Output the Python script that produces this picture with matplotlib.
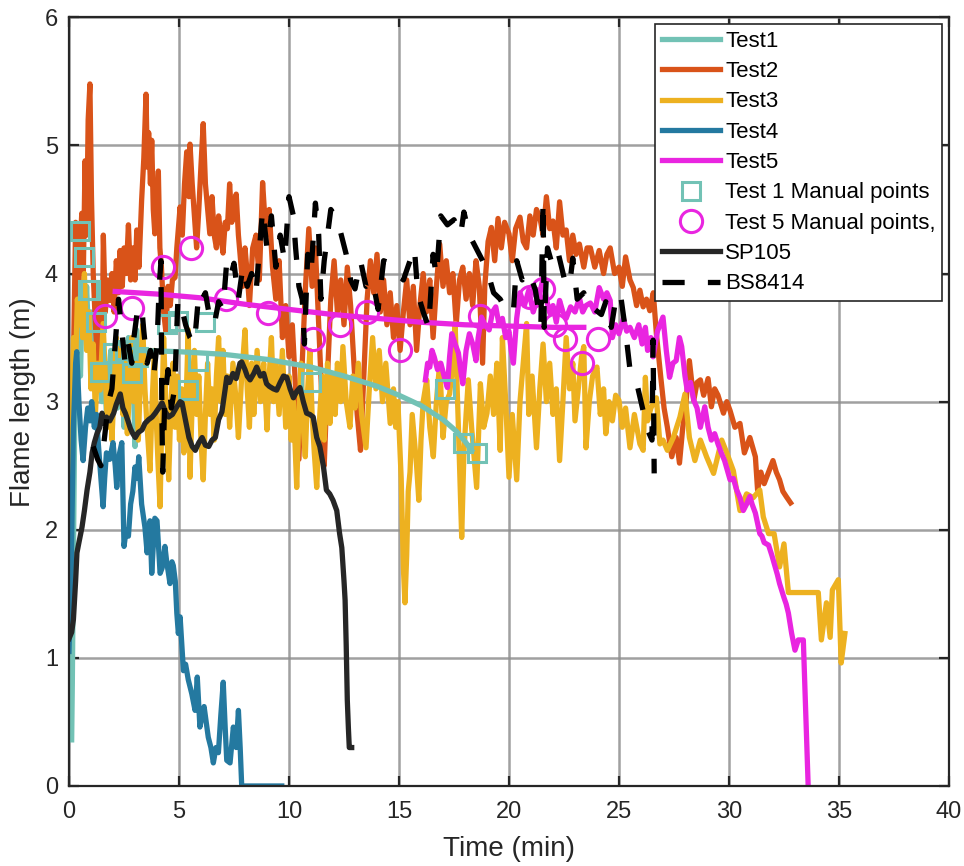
import numpy as np
import matplotlib
matplotlib.use("Agg")
import matplotlib.pyplot as plt

plt.rcParams['font.family'] = ['Liberation Sans', 'DejaVu Sans']

# --- data (time in min, flame length in m) ---
test1_raw = np.array([
    [0.12, 0.36], [0.15, 0.8], [0.2, 1.8], [0.25, 2.7], [0.3, 3.3], [0.38, 3.0],
    [0.45, 3.5], [0.52, 3.2], [0.6, 3.8], [0.7, 3.5], [0.8, 3.9], [0.9, 3.45],
    [1.0, 3.7], [1.1, 3.3], [1.2, 3.55], [1.3, 3.1], [1.4, 3.4], [1.5, 3.0],
    [1.6, 3.3], [1.7, 2.9], [1.8, 3.2], [1.9, 3.4], [2.0, 3.1], [2.1, 3.3],
    [2.2, 2.95], [2.3, 3.2], [2.4, 3.45], [2.5, 2.8], [2.6, 3.2], [2.7, 3.5],
    [2.8, 3.0], [2.9, 3.3], [3.0, 2.65], [3.07, 3.56], [3.15, 3.3], [3.2, 3.4]])

test1_fit = np.array([
    [3.2, 3.40], [5, 3.39], [7, 3.37], [9, 3.33], [11, 3.27], [12.5, 3.2],
    [14, 3.12], [15, 3.05], [16, 2.97], [17, 2.86], [17.6, 2.77], [18.0, 2.69],
    [18.3, 2.62]])

test2 = np.array([
    [0.0, 2.5], [0.1, 2.55], [0.2, 3.3], [0.3, 4.4], [0.4, 3.6], [0.5, 4.2],
    [0.58, 4.47], [0.65, 4.0], [0.73, 4.88], [0.8, 4.3], [0.87, 5.2], [0.95, 5.48],
    [1.02, 4.6], [1.1, 4.0], [1.2, 3.6], [1.3, 3.3], [1.4, 3.8], [1.5, 3.25],
    [1.56, 4.3], [1.65, 3.7], [1.75, 3.95], [1.86, 3.79], [1.95, 4.0], [2.05, 3.7],
    [2.15, 4.1], [2.25, 3.85], [2.32, 4.18], [2.42, 3.9], [2.5, 4.2], [2.6, 4.0],
    [2.7, 4.38], [2.8, 3.95], [2.9, 4.2], [3.0, 3.95], [3.08, 4.34], [3.18, 4.05],
    [3.3, 4.57], [3.4, 4.9], [3.5, 5.4], [3.56, 4.83], [3.62, 5.1], [3.7, 4.7],
    [3.76, 5.04], [3.83, 4.5], [3.9, 4.31], [3.98, 4.5], [4.06, 4.8], [4.13, 4.2],
    [4.2, 4.05], [4.3, 3.7], [4.4, 3.55], [4.5, 3.9], [4.6, 3.75], [4.7, 3.95],
    [4.82, 3.97], [4.9, 4.2], [5.05, 4.52], [5.15, 4.3], [5.25, 4.7], [5.35, 4.95],
    [5.45, 4.6], [5.5, 5.01], [5.6, 4.7], [5.7, 4.45], [5.8, 4.2], [5.9, 4.5],
    [6.0, 4.85], [6.1, 5.17], [6.2, 4.7], [6.3, 4.5], [6.4, 4.31], [6.5, 4.6],
    [6.6, 4.3], [6.7, 4.2], [6.8, 4.45], [6.9, 4.3], [7.0, 4.16], [7.1, 4.4],
    [7.2, 4.35], [7.3, 4.7], [7.4, 4.4], [7.5, 4.55], [7.6, 4.62], [7.7, 4.3],
    [7.8, 4.1], [7.9, 3.9], [8.0, 4.2], [8.1, 4.0], [8.2, 3.75], [8.35, 4.2],
    [8.5, 4.3], [8.65, 3.95], [8.8, 4.71], [8.95, 4.3], [9.1, 4.5], [9.25, 4.05],
    [9.4, 3.8], [9.55, 4.1], [9.7, 3.5], [9.85, 3.75], [10.0, 3.35], [10.15, 3.6],
    [10.3, 3.1], [10.45, 2.55], [10.6, 3.3], [10.75, 3.9], [10.9, 4.35], [11.05, 3.9],
    [11.2, 4.2], [11.35, 3.6], [11.5, 3.0], [11.6, 2.5], [11.75, 3.2], [11.9, 3.8],
    [12.05, 4.1], [12.2, 3.7], [12.35, 3.95], [12.5, 3.6], [12.65, 4.05], [12.8, 3.75],
    [12.95, 3.3], [13.1, 2.9], [13.25, 2.62], [13.4, 3.2], [13.55, 3.8], [13.7, 4.1],
    [13.85, 3.85], [14.0, 4.15], [14.15, 3.7], [14.3, 3.95], [14.45, 3.6], [14.6, 3.85],
    [14.75, 3.5], [14.9, 3.75], [15.05, 3.4], [15.2, 3.7], [15.35, 3.95], [15.5, 3.6],
    [15.65, 3.9], [15.8, 3.4], [15.95, 3.75], [16.1, 4.0], [16.25, 3.7], [16.4, 3.95],
    [16.55, 3.5], [16.7, 3.9], [16.85, 4.23], [17.0, 3.9], [17.15, 4.1], [17.3, 3.85],
    [17.45, 4.0], [17.6, 3.6], [17.75, 3.95], [17.9, 4.05], [18.05, 3.8], [18.2, 4.0],
    [18.35, 3.75], [18.5, 4.1], [18.65, 3.9], [18.8, 3.3], [18.9, 3.9], [19.05, 4.25],
    [19.2, 4.36], [19.35, 4.1], [19.5, 4.43], [19.65, 4.2], [19.8, 4.4], [20.0, 4.31],
    [20.15, 4.1], [20.3, 4.35], [20.5, 4.44], [20.65, 4.25], [20.8, 4.2], [20.95, 4.45],
    [21.1, 4.3], [21.25, 4.5], [21.4, 4.44], [21.55, 4.3], [21.7, 4.6], [21.85, 4.35],
    [22.0, 4.41], [22.15, 4.2], [22.3, 4.56], [22.45, 4.3], [22.6, 4.34], [22.75, 4.1],
    [22.9, 4.3], [23.05, 4.15], [23.2, 4.23], [23.4, 4.05], [23.55, 4.2], [23.7, 4.2],
    [23.9, 4.05], [24.1, 4.18], [24.3, 4.0], [24.45, 4.15], [24.6, 4.2], [24.8, 4.0],
    [25.0, 4.05], [25.15, 3.9], [25.3, 4.13], [25.5, 3.95], [25.65, 3.89], [25.8, 3.75],
    [25.95, 3.87], [26.1, 3.74], [26.25, 3.8], [26.4, 3.71], [26.56, 3.85], [26.7, 3.53],
    [26.9, 3.19], [27.05, 2.95], [27.2, 2.8], [27.4, 2.57], [27.6, 2.72], [27.75, 2.52],
    [27.9, 2.8], [28.05, 3.0], [28.2, 3.32], [28.4, 3.01], [28.55, 3.15], [28.7, 3.17],
    [28.85, 3.05], [29.05, 3.18], [29.2, 2.96], [29.35, 3.1], [29.5, 3.05], [29.75, 2.91],
    [29.9, 3.0], [30.05, 2.93], [30.27, 2.8], [30.5, 2.83], [30.7, 2.6], [30.95, 2.72],
    [31.2, 2.57], [31.3, 2.31], [31.45, 2.45], [31.6, 2.36], [31.8, 2.45], [32.0, 2.54],
    [32.15, 2.45], [32.3, 2.39], [32.45, 2.3], [32.6, 2.26], [32.8, 2.21]])

test3 = np.array([
    [0.0, 1.65], [0.05, 1.9], [0.12, 2.9], [0.2, 3.5], [0.3, 3.3], [0.38, 3.8],
    [0.45, 3.6], [0.55, 3.9], [0.62, 3.5], [0.7, 4.0], [0.8, 3.4], [0.9, 3.7],
    [1.0, 3.1], [1.1, 3.45], [1.2, 2.9], [1.3, 3.3], [1.41, 3.09], [1.55, 3.61],
    [1.65, 3.2], [1.75, 2.8], [1.85, 3.2], [1.95, 2.7], [2.05, 3.1], [2.15, 3.5],
    [2.25, 3.0], [2.35, 3.4], [2.45, 2.9], [2.55, 3.3], [2.65, 2.75], [2.75, 3.1],
    [2.85, 3.5], [2.95, 3.0], [3.05, 3.3], [3.15, 2.7], [3.25, 3.2], [3.35, 3.6],
    [3.45, 3.1], [3.55, 2.8], [3.68, 2.46], [3.78, 3.0], [3.88, 3.4], [3.98, 2.8],
    [4.05, 2.5], [4.14, 2.18], [4.22, 2.9], [4.3, 3.5], [4.4, 3.0], [4.53, 2.39],
    [4.62, 2.9], [4.72, 3.3], [4.82, 2.8], [4.92, 3.2], [5.02, 2.7], [5.12, 3.1],
    [5.22, 2.6], [5.32, 3.0], [5.42, 3.56], [5.5, 2.41], [5.6, 3.0], [5.7, 3.4],
    [5.8, 2.9], [5.9, 3.2], [6.0, 2.7], [6.1, 2.39], [6.2, 2.9], [6.3, 3.3],
    [6.4, 2.9], [6.5, 3.1], [6.6, 2.7], [6.7, 3.2], [6.8, 3.5], [6.9, 3.0],
    [7.0, 3.4], [7.1, 2.9], [7.2, 3.2], [7.3, 2.8], [7.45, 3.3], [7.6, 3.0],
    [7.7, 2.72], [7.85, 3.2], [8.0, 3.56], [8.1, 3.1], [8.2, 2.8], [8.3, 3.3],
    [8.4, 2.9], [8.55, 3.4], [8.7, 3.0], [8.85, 3.3], [9.0, 2.78], [9.1, 3.2],
    [9.2, 3.5], [9.3, 3.0], [9.4, 3.3], [9.55, 2.9], [9.7, 3.4], [9.85, 2.8],
    [10.0, 3.2], [10.1, 2.7], [10.2, 3.0], [10.35, 2.33], [10.45, 2.9], [10.55, 3.3],
    [10.65, 2.8], [10.74, 2.57], [10.85, 3.1], [10.95, 3.4], [11.05, 2.9], [11.15, 2.6],
    [11.26, 2.33], [11.4, 2.9], [11.5, 3.2], [11.6, 2.7], [11.75, 3.3], [11.86, 2.83],
    [12.0, 3.2], [12.1, 2.9], [12.2, 3.3], [12.35, 3.0], [12.45, 3.43], [12.6, 3.0],
    [12.77, 2.8], [12.9, 3.2], [13.0, 2.95], [13.15, 3.3], [13.3, 2.9], [13.5, 2.64],
    [13.65, 3.1], [13.8, 3.5], [13.95, 3.1], [14.1, 3.4], [14.25, 3.0], [14.4, 3.3],
    [14.6, 2.83], [14.75, 3.1], [14.85, 2.8], [14.95, 3.0], [15.1, 2.4], [15.2, 1.7],
    [15.27, 1.43], [15.35, 1.8], [15.42, 2.3], [15.5, 2.45], [15.6, 2.9], [15.7, 2.7],
    [15.8, 2.5], [15.9, 2.23], [16.0, 2.7], [16.1, 3.0], [16.26, 3.17], [16.4, 2.8],
    [16.56, 2.57], [16.7, 3.0], [16.85, 3.3], [17.0, 2.72], [17.15, 3.0], [17.3, 3.06],
    [17.45, 3.3], [17.55, 3.61], [17.7, 2.8], [17.85, 1.94], [17.95, 2.6], [18.05, 2.9],
    [18.15, 3.17], [18.3, 2.8], [18.45, 2.5], [18.53, 2.33], [18.7, 3.14], [18.85, 2.8],
    [19.0, 2.91], [19.15, 3.2], [19.3, 2.9], [19.45, 3.3], [19.6, 2.62], [19.7, 3.5],
    [19.85, 3.0], [20.0, 2.41], [20.15, 2.9], [20.35, 2.39], [20.5, 3.0], [20.65, 3.3],
    [20.8, 3.61], [20.9, 2.9], [21.05, 3.2], [21.25, 2.64], [21.4, 3.1], [21.55, 3.45],
    [21.7, 3.0], [21.85, 3.3], [22.0, 2.9], [22.15, 3.1], [22.3, 2.54], [22.45, 3.0],
    [22.6, 3.5], [22.75, 3.1], [22.9, 3.3], [23.0, 2.85], [23.15, 3.1], [23.3, 3.35],
    [23.4, 3.43], [23.5, 2.64], [23.65, 3.0], [23.8, 3.2], [24.0, 3.27], [24.15, 2.9],
    [24.3, 3.1], [24.4, 2.75], [24.55, 3.0], [24.7, 2.85], [24.85, 3.05], [25.0, 3.01],
    [25.15, 2.8], [25.3, 2.95], [25.5, 2.64], [25.7, 2.9], [25.95, 2.67], [26.1, 2.62],
    [26.2, 3.19], [26.3, 2.85], [26.45, 2.95], [26.7, 3.03], [26.86, 2.67], [27.0, 2.7],
    [27.2, 2.62], [27.47, 2.72], [27.77, 2.88], [28.0, 3.06], [28.2, 2.72], [28.45, 2.54],
    [28.7, 2.7], [28.98, 2.57], [29.3, 2.44], [29.67, 2.7], [29.9, 2.6], [30.2, 2.46],
    [30.5, 2.15], [30.8, 2.28], [31.1, 2.25], [31.4, 2.31], [31.56, 2.1], [31.8, 1.97],
    [32.05, 1.97], [32.3, 1.71], [32.5, 1.89], [32.7, 1.51], [34.06, 1.51], [34.2, 1.14],
    [34.43, 1.43], [34.6, 1.16], [34.7, 1.53], [34.97, 1.61], [35.1, 0.96], [35.27, 1.19]])

test4 = np.array([
    [0.0, 1.05], [0.1, 1.7], [0.2, 2.8], [0.3, 3.3], [0.35, 3.39], [0.45, 3.0],
    [0.55, 2.7], [0.64, 2.54], [0.75, 2.8], [0.85, 2.95], [0.95, 2.85], [1.03, 3.0],
    [1.15, 2.8], [1.25, 2.9], [1.32, 2.7], [1.45, 2.4], [1.55, 2.18], [1.62, 2.4],
    [1.7, 2.6], [1.85, 2.55], [2.0, 2.68], [2.1, 2.5], [2.17, 2.33], [2.3, 2.6],
    [2.4, 2.68], [2.5, 1.87], [2.6, 2.0], [2.7, 1.95], [2.8, 2.2], [2.9, 2.3],
    [3.0, 2.49], [3.1, 2.4], [3.17, 2.57], [3.3, 2.2], [3.45, 2.02], [3.55, 1.82],
    [3.68, 2.07], [3.76, 1.66], [3.9, 2.09], [4.0, 2.07], [4.14, 1.66], [4.23, 1.7],
    [4.36, 1.87], [4.44, 1.75], [4.59, 1.58], [4.68, 1.75], [4.74, 1.72], [4.83, 1.6],
    [4.9, 1.35], [4.97, 1.19], [5.05, 1.32], [5.2, 0.9], [5.3, 0.95], [5.42, 0.83],
    [5.58, 0.72], [5.73, 0.59], [5.83, 0.85], [5.95, 0.46], [6.05, 0.55], [6.14, 0.62],
    [6.33, 0.38], [6.45, 0.3], [6.56, 0.18], [6.68, 0.3], [6.79, 0.26], [6.9, 0.55],
    [7.01, 0.81], [7.1, 0.45], [7.17, 0.2], [7.32, 0.18], [7.47, 0.46], [7.6, 0.3],
    [7.7, 0.59], [7.78, 0.3], [7.85, 0.0], [9.67, 0.0]])

test5_raw = np.array([
    [16.2, 3.17], [16.3, 3.3], [16.4, 3.27], [16.5, 3.4], [16.6, 3.35], [16.75, 3.25],
    [16.9, 3.3], [17.05, 3.2], [17.2, 3.11], [17.3, 3.35], [17.4, 3.53], [17.55, 3.45],
    [17.7, 3.38], [17.8, 3.25], [17.9, 3.14], [18.05, 3.4], [18.2, 3.53], [18.35, 3.45],
    [18.5, 3.32], [18.6, 3.5], [18.75, 3.66], [18.9, 3.6], [19.1, 3.56], [19.25, 3.7],
    [19.4, 3.74], [19.55, 3.6], [19.7, 3.65], [19.85, 3.5], [20.0, 3.55], [20.1, 3.4],
    [20.2, 3.3], [20.35, 3.65], [20.5, 3.85], [20.7, 3.75], [20.9, 3.87], [21.1, 3.7],
    [21.26, 3.79], [21.4, 3.85], [21.56, 3.97], [21.7, 3.8], [21.86, 3.69], [22.0, 3.75],
    [22.15, 3.62], [22.3, 3.79], [22.45, 3.7], [22.6, 3.65], [22.8, 3.74], [23.0, 3.7],
    [23.2, 3.81], [23.35, 3.7], [23.5, 3.75], [23.7, 3.77], [23.9, 3.7], [24.1, 3.89],
    [24.3, 3.8], [24.45, 3.85], [24.6, 3.79], [24.7, 3.5], [24.85, 3.6], [25.0, 3.53],
    [25.2, 3.65], [25.35, 3.55], [25.5, 3.58], [25.7, 3.5], [25.9, 3.6], [26.05, 3.45],
    [26.2, 3.58], [26.3, 3.4], [26.45, 3.5], [26.55, 3.35], [26.75, 3.55], [27.0, 3.66],
    [27.15, 3.4], [27.3, 3.19], [27.45, 3.3], [27.6, 3.32], [27.75, 3.5], [27.85, 3.43],
    [28.0, 3.2], [28.1, 3.09], [28.25, 3.15], [28.4, 3.01], [28.55, 2.95], [28.7, 2.8],
    [28.9, 2.96], [29.05, 2.8], [29.2, 2.7], [29.35, 2.75], [29.5, 2.67], [29.65, 2.6],
    [29.8, 2.54], [29.95, 2.45], [30.05, 2.39], [30.2, 2.4], [30.35, 2.31], [30.5, 2.25],
    [30.65, 2.15], [30.8, 2.2], [30.95, 2.26], [31.05, 2.2], [31.2, 2.13], [31.3, 2.05],
    [31.4, 1.97], [31.5, 1.95], [31.6, 1.9], [31.8, 1.88], [31.95, 1.8], [32.1, 1.71],
    [32.2, 1.65], [32.3, 1.58], [32.5, 1.47], [32.6, 1.42], [32.7, 1.35], [32.85, 1.19],
    [33.0, 1.06], [33.15, 1.14], [33.38, 1.14], [33.42, 0.93], [33.6, 0.0]])

test5_fit = np.array([
    [2.1, 3.86], [4, 3.84], [6, 3.81], [8, 3.76], [10, 3.72], [12, 3.68],
    [14, 3.65], [16, 3.62], [18, 3.6], [20, 3.59], [22, 3.58], [23.4, 3.58]])

test1_manual = np.array([
    [0.51, 4.33], [0.68, 4.13], [0.86, 3.87], [0.95, 3.87], [1.22, 3.62], [1.43, 3.23],
    [2.0, 3.38], [2.55, 3.4], [2.86, 3.22], [3.15, 3.35], [4.44, 3.61], [4.95, 3.63],
    [5.43, 3.09], [5.85, 3.32], [6.2, 3.62], [11.0, 3.15], [17.1, 3.1], [17.9, 2.68],
    [18.55, 2.6]])

test5_manual = np.array([
    [1.62, 3.67], [2.86, 3.73], [4.26, 4.05], [5.55, 4.2], [7.15, 3.8], [9.05, 3.69],
    [11.08, 3.49], [12.3, 3.6], [13.53, 3.7], [15.05, 3.4], [18.7, 3.67], [20.95, 3.82],
    [21.55, 3.88], [22.1, 3.6], [22.55, 3.49], [23.3, 3.3], [24.05, 3.49]])

sp105 = np.array([
    [0.0, 1.15], [0.12, 1.2], [0.2, 1.3], [0.3, 1.6], [0.36, 1.82], [0.45, 1.9],
    [0.59, 2.02], [0.7, 2.15], [0.82, 2.31], [0.95, 2.45], [1.05, 2.6], [1.15, 2.68],
    [1.27, 2.75], [1.4, 2.8], [1.5, 2.91], [1.58, 2.83], [1.7, 2.88], [1.85, 2.85],
    [2.03, 2.91], [2.15, 2.98], [2.33, 3.06], [2.45, 2.95], [2.56, 2.91], [2.68, 2.85],
    [2.79, 2.79], [2.9, 2.75], [3.01, 2.72], [3.15, 2.76], [3.32, 2.78], [3.45, 2.83],
    [3.62, 2.86], [3.78, 2.88], [3.92, 2.91], [4.08, 2.95], [4.23, 2.99], [4.38, 2.92],
    [4.53, 2.88], [4.7, 2.9], [4.9, 2.96], [5.05, 3.0], [5.14, 2.99], [5.3, 2.85],
    [5.45, 2.72], [5.6, 2.65], [5.74, 2.62], [5.9, 2.68], [6.05, 2.72], [6.2, 2.66],
    [6.35, 2.65], [6.5, 2.7], [6.65, 2.72], [6.8, 2.86], [6.95, 2.92], [7.1, 3.1],
    [7.17, 3.19], [7.3, 3.15], [7.45, 3.22], [7.6, 3.18], [7.77, 3.3], [7.85, 3.31],
    [8.0, 3.25], [8.1, 3.2], [8.23, 3.17], [8.4, 3.22], [8.53, 3.27], [8.7, 3.2],
    [8.85, 3.22], [8.98, 3.14], [9.1, 3.12], [9.29, 3.1], [9.44, 3.09], [9.6, 3.15],
    [9.75, 3.2], [9.9, 3.19], [10.05, 3.1], [10.2, 3.03], [10.35, 3.08], [10.5, 3.11],
    [10.65, 3.0], [10.8, 2.91], [10.95, 2.9], [11.1, 2.88], [11.26, 2.72], [11.4, 2.65],
    [11.56, 2.5], [11.7, 2.31], [11.85, 2.28], [12.0, 2.23], [12.17, 2.15], [12.3, 1.97],
    [12.4, 1.86], [12.5, 1.6], [12.55, 1.45], [12.6, 1.1], [12.65, 0.67], [12.7, 0.45],
    [12.74, 0.3], [12.85, 0.3]])

bs8414 = np.array([
    [1.1, 2.65], [1.3, 2.55], [1.45, 2.5], [1.6, 2.7], [1.8, 3.0], [1.95, 3.1],
    [2.1, 3.45], [2.25, 3.8], [2.4, 3.55], [2.55, 3.3], [2.7, 3.45], [2.85, 3.3],
    [2.95, 3.5], [3.1, 3.7], [3.3, 3.75], [3.4, 3.55], [3.55, 3.3], [3.7, 3.4],
    [3.85, 3.2], [4.0, 3.45], [4.1, 3.9], [4.18, 4.1], [4.22, 2.9], [4.26, 2.45],
    [4.35, 3.0], [4.5, 3.25], [4.65, 2.95], [4.8, 3.1], [4.95, 3.8], [5.1, 3.75],
    [5.3, 3.6], [5.5, 3.5], [5.7, 3.45], [5.9, 3.85], [6.05, 3.8], [6.2, 3.85],
    [6.4, 3.65], [6.6, 3.6], [6.8, 3.78], [7.0, 3.72], [7.15, 4.05], [7.3, 3.95],
    [7.5, 4.08], [7.7, 3.8], [7.9, 4.05], [8.1, 3.9], [8.3, 4.0], [8.5, 3.85],
    [8.8, 4.5], [9.0, 4.2], [9.2, 4.45], [9.4, 4.05], [9.6, 4.3], [9.8, 4.1],
    [10.0, 4.6], [10.2, 4.45], [10.3, 4.2], [10.45, 3.9], [10.6, 3.8], [10.7, 3.45],
    [10.85, 4.15], [11.0, 4.0], [11.2, 4.55], [11.35, 4.3], [11.45, 3.8], [11.6, 4.1],
    [11.9, 4.5], [12.2, 4.42], [12.45, 4.25], [12.6, 4.15], [12.8, 3.95], [13.0, 3.88],
    [13.25, 4.1], [13.5, 3.9], [13.8, 3.95], [14.05, 3.72], [14.3, 4.1], [14.6, 4.08],
    [14.9, 4.0], [15.2, 3.95], [15.5, 4.1], [15.7, 4.2], [15.85, 3.85], [16.1, 3.7],
    [16.35, 3.58], [16.55, 4.15], [16.7, 3.98], [16.9, 4.45], [17.2, 4.38], [17.5, 4.42],
    [17.8, 4.3], [17.95, 4.48], [18.2, 4.3], [18.5, 4.2], [18.8, 4.1], [19.05, 4.0],
    [19.3, 3.85], [19.6, 3.8], [19.9, 3.7], [20.2, 3.7], [20.35, 4.1], [20.6, 3.95],
    [20.9, 4.02], [21.2, 3.87], [21.45, 3.6], [21.55, 4.57], [21.6, 3.58], [21.75, 4.2],
    [22.0, 4.05], [22.25, 4.15], [22.5, 3.97], [22.75, 3.9], [22.9, 4.12], [23.1, 3.8],
    [23.4, 3.85], [23.6, 3.72], [23.9, 3.72], [24.2, 3.68], [24.4, 3.78], [24.65, 3.58],
    [24.9, 3.85], [25.1, 3.8], [25.3, 3.55], [25.5, 3.25], [25.8, 3.15], [26.0, 3.0],
    [26.3, 2.78], [26.5, 2.7], [26.55, 3.48], [26.6, 2.44]])

x_ticks = [0, 5, 10, 15, 20, 25, 30, 35, 40]
y_ticks = [0, 1, 2, 3, 4, 5, 6]

c_test1 = '#72C2B5'
c_test2 = '#D95319'
c_test3 = '#EDB120'
c_test4 = '#2479A0'
c_test5 = '#E925E0'
c_sp = '#262626'

fig = plt.figure(figsize=(9.64, 8.66), dpi=100)
ax = fig.add_axes([0.0716, 0.0924, 0.9128, 0.8876])

lw = 3.8
ax.plot(test1_raw[:, 0], test1_raw[:, 1], color=c_test1, lw=lw, label='Test1')
ax.plot(test2[:, 0], test2[:, 1], color=c_test2, lw=lw, label='Test2')
ax.plot(test3[:, 0], test3[:, 1], color=c_test3, lw=lw, label='Test3')
ax.plot(test4[:, 0], test4[:, 1], color=c_test4, lw=lw, label='Test4')
ax.plot(test5_raw[:, 0], test5_raw[:, 1], color=c_test5, lw=lw, label='Test5')
ax.plot(test1_manual[:, 0], test1_manual[:, 1], ls='none', marker='s', ms=12.5,
        mfc='none', mec=c_test1, mew=2.2, label='Test 1 Manual points')
ax.plot(test5_manual[:, 0], test5_manual[:, 1], ls='none', marker='o', ms=16,
        mfc='none', mec=c_test5, mew=2.2, label='Test 5 Manual points,')
ax.plot(test1_fit[:, 0], test1_fit[:, 1], color=c_test1, lw=lw)
ax.plot(test5_fit[:, 0], test5_fit[:, 1], color=c_test5, lw=lw)
ax.plot(sp105[:, 0], sp105[:, 1], color=c_sp, lw=lw, label='SP105')
ax.plot(bs8414[:, 0], bs8414[:, 1], color='black', lw=lw, dashes=(4.2, 4.4),
        label='BS8414')

ax.set_xlim(0, 40)
ax.set_ylim(0, 6)
ax.set_xticks(x_ticks)
ax.set_yticks(y_ticks)
ax.grid(True, color='#8f8f8f', lw=1.8, alpha=0.85)
ax.set_axisbelow(True)
ax.tick_params(direction='in', length=7, width=1.6, top=True, right=True,
               labelsize=17, colors='#262626')
ax.tick_params(axis='x', pad=11)
ax.tick_params(axis='y', pad=8)
for s in ax.spines.values():
    s.set_color('#262626')
    s.set_linewidth(1.6)

ax.set_xlabel('Time (min)', fontsize=20, color='#262626', labelpad=9)
ax.set_ylabel('Flame length (m)', fontsize=20, color='#262626', labelpad=6)

leg = ax.legend(loc='upper right', fontsize=16, handlelength=2.6,
                handletextpad=0.25, labelspacing=0.42, borderpad=0.3,
                borderaxespad=0.3, fancybox=False, framealpha=1)
leg.get_frame().set_edgecolor('#262626')
leg.get_frame().set_linewidth(1.2)

fig.savefig('out.png', dpi=100)
